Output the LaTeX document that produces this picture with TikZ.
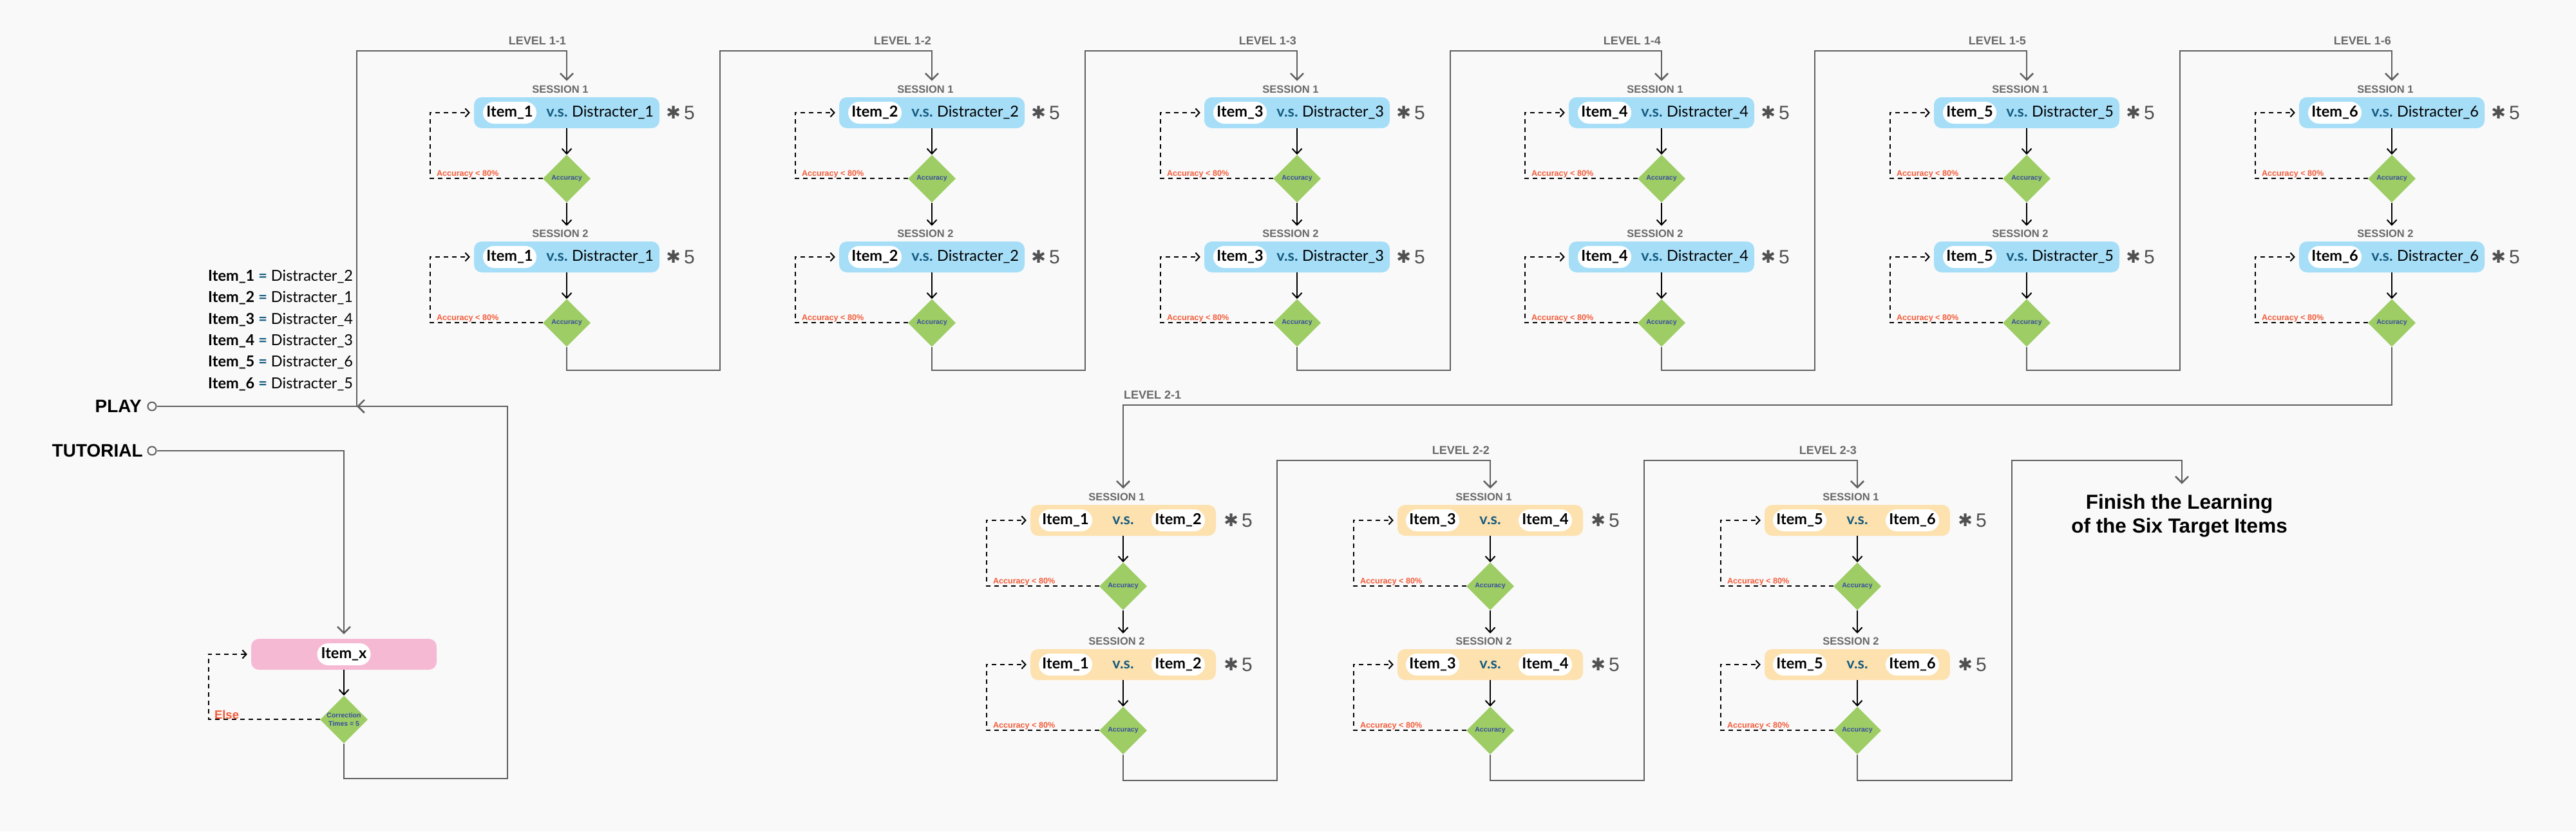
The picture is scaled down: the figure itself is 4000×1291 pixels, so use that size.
\documentclass[tikz,border=0pt]{standalone}
\usepackage{fontspec}
\setmainfont{Liberation Sans}
\newfontfamily\itemfont{Lato}
\newfontfamily\symfont{DejaVu Sans}
\usetikzlibrary{shapes.geometric,
                arrows.meta,
                positioning}
\definecolor{paper}{RGB}{249,249,249}
\definecolor{wiregray}{RGB}{96,96,96}
\definecolor{taggray}{RGB}{104,104,104}
\definecolor{blueblock}{RGB}{166,222,248}
\definecolor{orangeblock}{RGB}{253,225,175}
\definecolor{pinkblock}{RGB}{246,185,212}
\definecolor{checkgreen}{RGB}{157,205,100}
\definecolor{checkblue}{RGB}{55,75,160}
\definecolor{vsblue}{RGB}{22,92,128}
\definecolor{failred}{RGB}{242,92,58}
\definecolor{repeatgray}{RGB}{80,80,80}
\tikzset{block/.style =
   {rectangle,
    rounded corners=12pt,
    minimum width=288pt,
    minimum height=48pt}}
\tikzset{pill/.style =
   {rectangle,
    fill=white,
    rounded corners=17pt,
    minimum width=83pt,
    minimum height=34pt,
    inner sep=0pt,
    font=\itemfont\bfseries\fontsize{23.5}{26}\selectfont}}
\tikzset{word/.style =
   {inner sep=0pt,
    font=\itemfont\fontsize{23.5}{26}\selectfont}}
\tikzset{vs/.style =
   {inner sep=0pt,
    text=vsblue,
    font=\itemfont\bfseries\fontsize{23.5}{26}\selectfont}}
\tikzset{times5/.style =
   {inner sep=0pt,
    text=repeatgray,
    font=\fontsize{30}{32}\selectfont}}
\tikzset{check/.style =
   {diamond,
    fill=checkgreen,
    minimum width=74pt,
    minimum height=74pt,
    inner sep=0pt,
    text=checkblue,
    font=\bfseries\fontsize{10.5}{12}\selectfont}}
\tikzset{checknote/.style =
   {align=center,
    inner sep=0pt,
    text=checkblue,
    font=\bfseries\fontsize{10.5}{12.5}\selectfont}}
\tikzset{sessiontag/.style =
   {inner sep=1pt,
    text=taggray,
    font=\bfseries\fontsize{16.5}{18}\selectfont}}
\tikzset{leveltag/.style =
   {inner sep=1pt,
    text=taggray,
    font=\bfseries\fontsize{18}{20}\selectfont}}
\tikzset{failnote/.style =
   {inner sep=1pt,
    text=failred,
    font=\bfseries\fontsize{12.6}{14}\selectfont}}
\tikzset{entry/.style =
   {circle,
    draw=wiregray,
    fill=paper,
    line width=2pt,
    minimum size=13pt,
    inner sep=0pt}}
\tikzset{entrytext/.style =
   {inner sep=0pt,
    font=\bfseries\fontsize{28}{30}\selectfont}}
\tikzset{finish/.style =
   {align=center,
    inner sep=2pt,
    font=\bfseries\fontsize{31.5}{37}\selectfont}}
\tikzset{wire/.style = {draw=wiregray, line width=2.5pt}}
\tikzset{wirearrow/.style = {wire, -{Straight Barb[length=10pt, width=20pt]}}}
\tikzset{arrow/.style = {draw, line width=2pt, -{Straight Barb[length=8pt, width=15pt]}}}
\tikzset{retry/.style = {draw, line width=2pt, dash pattern=on 7pt off 6pt,
                         -{Straight Barb[length=6pt, width=13pt]}}}

\begin{document}
\begin{tikzpicture}[x=1pt, y=-1pt]

    \useasboundingbox[fill=paper] (0,0) rectangle (4000,1291);

    \node [entrytext, anchor=east] (play) at (220,631) {PLAY};
    \node [entry] (playdot) at (236,631) {};
    \node [entrytext, anchor=east] (tutorial) at (222,700) {TUTORIAL};
    \node [entry] (tutdot) at (236,700) {};
    \coordinate (playjoin) at (554,631);
    \coordinate (tutturn) at (788,1209);

    \foreach \itm/\dis/\y in {1/2/430, 2/1/463, 3/4/497, 4/3/530, 5/6/563, 6/5/597} {
        \node [word, anchor=west] (key\itm) at (323,\y)
        {\textbf{Item\_\itm} {\color{vsblue}\textbf{=}} Distracter\_\dis};
    }

    \node [block, fill=pinkblock] (tutbox) at (534,1016) {};
    \node [pill] (tutitem) at (tutbox) {Item\_x};
    \node [check, below=40pt of tutbox,
           label={[checknote]center:Correction\\Times = 5}] (tutdec) {};
    \draw [wirearrow, shorten >=7pt] (tutdot) -| (tutbox.north);
    \draw [arrow] (tutbox) -- (tutdec);
    \draw [retry] (tutdec.west) -- ++(-173,0) coordinate (tutloop)
                  |- ([xshift=-6pt]tutbox.west);
    \node [failnote, anchor=south west, font=\bfseries\fontsize{18.5}{20}\selectfont]
          at ([xshift=8pt]tutloop) {Else};
    \draw [wirearrow] (tutdec.south) |- (tutturn) |- (playjoin);

    \foreach \k/\cx in {1/880, 2/1447, 3/2014, 4/2580, 5/3147, 6/3714} {
        \coordinate (L1\k-in) at (\cx,79);
        \coordinate (L1\k-out) at (\cx,575);
        \node [leveltag, anchor=south east] at ([yshift=8pt]L1\k-in) {LEVEL 1-\k};
        \foreach \ses/\by in {1/175, 2/399} {
            \node [block, fill=blueblock] (L1\k-box\ses) at (\cx,\by) {};
            \node [pill, right=14pt of L1\k-box\ses.west] {Item\_\k};
            \node [vs] at ([xshift=-15pt]L1\k-box\ses.center) {v.s.};
            \node [word, left=9pt of L1\k-box\ses.east] {Distracter\_\k};
            \node [times5, right=10pt of L1\k-box\ses.east]
                  {\raisebox{1pt}{\symfont\bfseries\fontsize{27}{27}\selectfont ✱}\,5};
            \node [sessiontag, above=5pt of L1\k-box\ses, xshift=-10pt] (L1\k-ses\ses) {SESSION \ses};
            \node [check, below=41pt of L1\k-box\ses] (L1\k-dec\ses) {Accuracy};
            \draw [arrow] (L1\k-box\ses) -- (L1\k-dec\ses);
            \draw [retry] (L1\k-dec\ses.west) -- ++(-175,0) coordinate (L1\k-loop\ses)
                          |- ([xshift=-6pt]L1\k-box\ses.west);
            \node [failnote, anchor=south west] at ([xshift=9pt]L1\k-loop\ses) {Accuracy < 80\%};
        }
        \draw [arrow, shorten >=5pt] (L1\k-dec1.south) -- (L1\k-dec1.south |- L1\k-ses2.north);
    }

    \foreach \k/\cx/\ia/\ib in {1/1744/1/2, 2/2314/3/4, 3/2884/5/6} {
        \coordinate (L2\k-in) at (\cx,715);
        \coordinate (L2\k-out) at (\cx,1212);
        \foreach \ses/\by in {1/808, 2/1032} {
            \node [block, fill=orangeblock] (L2\k-box\ses) at (\cx,\by) {};
            \node [pill, right=13pt of L2\k-box\ses.west] {Item\_\ia};
            \node [vs] at (L2\k-box\ses.center) {v.s.};
            \node [pill, left=17pt of L2\k-box\ses.east] {Item\_\ib};
            \node [times5, right=12pt of L2\k-box\ses.east]
                  {\raisebox{1pt}{\symfont\bfseries\fontsize{27}{27}\selectfont ✱}\,5};
            \node [sessiontag, above=5pt of L2\k-box\ses, xshift=-10pt] (L2\k-ses\ses) {SESSION \ses};
            \node [check, below=41pt of L2\k-box\ses] (L2\k-dec\ses) {Accuracy};
            \draw [arrow] (L2\k-box\ses) -- (L2\k-dec\ses);
            \draw [retry] (L2\k-dec\ses.west) -- ++(-175,0) coordinate (L2\k-loop\ses)
                          |- ([xshift=-6pt]L2\k-box\ses.west);
            \node [failnote, anchor=south west] at ([xshift=9pt]L2\k-loop\ses) {Accuracy < 80\%};
        }
        \draw [arrow, shorten >=5pt] (L2\k-dec1.south) -- (L2\k-dec1.south |- L2\k-ses2.north);
    }

    \coordinate (L21-top) at (1744,629);
    \node [leveltag, anchor=south west] at ([yshift=8pt]L21-top) {LEVEL 2-1};
    \node [leveltag, anchor=south east] at ([yshift=8pt]L22-in) {LEVEL 2-2};
    \node [leveltag, anchor=south east] at ([yshift=8pt]L23-in) {LEVEL 2-3};

    \node [finish] (finish) at (3384,801) {Finish the Learning\\of the Six Target Items};
    \coordinate (finishin) at (3388,715);

    \draw [wirearrow, shorten >=6pt] (playdot) -- (playjoin) |- (L11-in)
          -- (L11-in |- L11-ses1.north);
    \foreach \k/\n in {1/2, 2/3, 3/4, 4/5, 5/6} {
        \draw [wirearrow, shorten >=6pt] (L1\k-dec2.south) -- (L1\k-out) -- ++(238,0)
              |- (L1\n-in) -- (L1\n-in |- L1\n-ses1.north);
    }
    \draw [wirearrow, shorten >=6pt] (L16-dec2.south) |- (L21-top)
          -- (L21-top |- L21-ses1.north);
    \foreach \k/\n in {1/2, 2/3} {
        \draw [wirearrow, shorten >=6pt] (L2\k-dec2.south) -- (L2\k-out) -- ++(239,0)
              |- (L2\n-in) -- (L2\n-in |- L2\n-ses1.north);
    }
    \draw [wirearrow, shorten >=14pt] (L23-dec2.south) -- (L23-out) -- ++(240,0)
          |- (finishin) -- (finishin |- finish.north);

\end{tikzpicture}
\end{document}
